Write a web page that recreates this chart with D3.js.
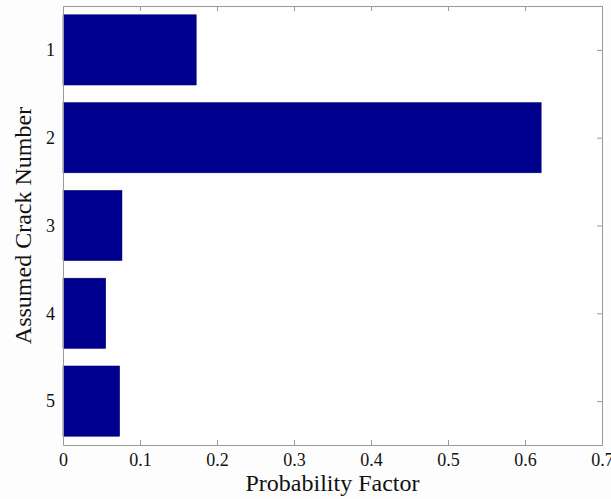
<!DOCTYPE html>
<html>
<head>
<meta charset="utf-8">
<script src="https://cdn.jsdelivr.net/npm/d3@7"></script>
<style>
  body { margin: 0; background: #fdfdfd; }
  svg text { font-family: "Liberation Serif", "Times New Roman", serif; fill: #111; }
</style>
</head>
<body>
<svg id="chart"></svg>
<script>
var width = 611,
    height = 499;

// data
var cracks = [1, 2, 3, 4, 5];
var probability = [0.173, 0.621, 0.0766, 0.0555, 0.0736];
var xTicks = [0, 0.1, 0.2, 0.3, 0.4, 0.5, 0.6, 0.7];

var margin = {top: 6, right: 9, bottom: 54, left: 63};

var svg = d3.select("svg#chart")
  .attr("width", width)
  .attr("height", height);

var x = d3.scaleLinear()
  .domain([0, 0.7])
  .range([margin.left, width - margin.right]);

var y = d3.scaleLinear()
  .domain([0.5, 5.5])
  .range([margin.top, height - margin.bottom]);

var barColor = "#00008f";
var axisColor = "#9a9a9a";

// plot background
svg.append("rect")
  .attr("x", x(0))
  .attr("y", y(0.5))
  .attr("width", x(0.7) - x(0))
  .attr("height", y(5.5) - y(0.5))
  .attr("fill", "#fefefe");

var fmt = d => d === 0 ? "0" : d3.format(".1f")(d);

// axes, ticks pointing inward
var bottomAxis = svg.append("g")
  .attr("transform", translate(0, y(5.5)))
  .call(d3.axisBottom(x).tickValues(xTicks).tickFormat(fmt)
    .tickSizeInner(-5).tickSizeOuter(0).tickPadding(8));

var topAxis = svg.append("g")
  .attr("transform", translate(0, y(0.5)))
  .call(d3.axisTop(x).tickValues(xTicks).tickFormat("")
    .tickSizeInner(-5).tickSizeOuter(0));

var leftAxis = svg.append("g")
  .attr("transform", translate(x(0), 0))
  .call(d3.axisLeft(y).tickValues(cracks).tickFormat(d3.format("d"))
    .tickSizeInner(-5).tickSizeOuter(0).tickPadding(8));

var rightAxis = svg.append("g")
  .attr("transform", translate(x(0.7), 0))
  .call(d3.axisRight(y).tickValues(cracks).tickFormat("")
    .tickSizeInner(-5).tickSizeOuter(0));

[bottomAxis, topAxis, leftAxis, rightAxis].forEach(function(g) {
  g.select(".domain").attr("stroke", axisColor);
  g.selectAll(".tick line").attr("stroke", axisColor);
  g.selectAll(".tick text")
    .attr("font-size", 18)
    .attr("font-family", null)
    .attr("fill", "#111");
});

// bars, drawn over the left ticks
svg.append("g").attr("id", "bars")
  .selectAll("rect")
  .data(cracks)
  .enter()
  .append("rect")
  .attr("x", x(0))
  .attr("y", d => y(d - 0.4))
  .attr("width", (d, i) => x(probability[i]) - x(0))
  .attr("height", d => y(d + 0.4) - y(d - 0.4))
  .attr("fill", barColor)
  .attr("stroke", "#000070")
  .attr("stroke-width", 0.5);

leftAxis.raise();
leftAxis.selectAll(".tick line").remove();

// axis titles
svg.append("text")
  .attr("x", (x(0) + x(0.7)) / 2)
  .attr("y", 491)
  .attr("text-anchor", "middle")
  .attr("font-size", 24)
  .text("Probability Factor");

svg.append("text")
  .attr("transform", translate(31, (y(0.5) + y(5.5)) / 2) + " rotate(-90)")
  .attr("text-anchor", "middle")
  .attr("font-size", 24)
  .text("Assumed Crack Number");

/*
* returns a translate string for the transform attribute
*/
function translate(x, y) {
  return 'translate(' + String(x) + ',' + String(y) + ')';
}
</script>
</body>
</html>
